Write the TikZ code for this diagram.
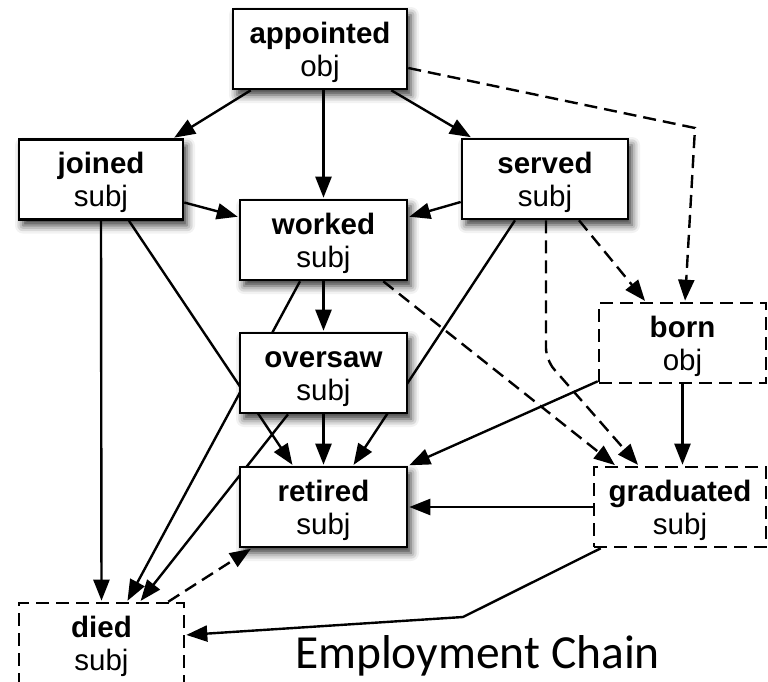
\documentclass[tikz,border=0pt]{standalone}
\usepackage{fontspec}
\setmainfont{Liberation Sans}
\newfontfamily\titlefont{Carlito}
\usetikzlibrary{arrows.meta,shadows.blur}
\pgfdeclarelayer{edges}
\pgfsetlayers{edges,main}

% two-line event label: bold verb over its role
\newcommand{\evt}[2]{\rule{0pt}{28pt}\textbf{#1}\\#2}

\tikzset{
  box/.style={rectangle, minimum width=167pt, minimum height=80pt, inner sep=0pt,
    align=center, font=\fontsize{29.5}{33}\selectfont, fill=white, line width=2.6pt},
  solidbox/.style={box, draw, blur shadow={shadow xshift=4pt, shadow yshift=-6pt,
    shadow blur radius=8pt, shadow opacity=80}},
  dashbox/.style={box, draw, dash pattern=on 13pt off 7pt},
  wire/.style={line width=2.4pt},
  link/.style={wire, -{Triangle[length=21pt,width=16pt]}, shorten >=1pt},
  dlink/.style={link, dash pattern=on 13pt off 7pt},
}

\begin{document}
\begin{tikzpicture}[x=1pt, y=-1pt]
\useasboundingbox (0,0) rectangle (768,681);

% events
\node[solidbox, minimum width=174pt] (appointed) at (320,49)    {\evt{appointed}{obj}};
\node[solidbox, minimum width=164pt] (joined)    at (101,179.5) {\evt{joined}{subj}};
\node[solidbox, minimum width=166pt] (served)    at (545,179)   {\evt{served}{subj}};
\node[solidbox] (worked)  at (323.5,240) {\evt{worked}{subj}};
\node[solidbox] (oversaw) at (323.5,373) {\evt{oversaw}{subj}};
\node[solidbox] (retired) at (323.5,507) {\evt{retired}{subj}};
\node[dashbox] (born)      at (682.5,343) {\evt{born}{obj}};
\node[dashbox, minimum width=172pt] (graduated) at (680,507) {\evt{graduated}{subj}};
\node[dashbox, minimum width=165pt] (died)      at (101.5,643) {\evt{died}{subj}};

\node[font=\titlefont\fontsize{47.5}{50}\selectfont, anchor=base, inner sep=0pt]
  (title) at (477.5,668) {Employment Chain};

% bend points
\coordinate (bornbend) at (695,128);
\coordinate (gradbend) at (546,360);
\coordinate (diedbend) at (463,617);

\begin{pgfonlayer}{edges}
% from appointed
\draw[link] ([xshift=19pt]appointed.south west) -- ([xshift=-11pt]joined.north east);
\draw[link] (worked.north |- appointed.south) -- (worked.north);
\draw[link] ([xshift=-17pt]appointed.south east) -- ([xshift=11pt]served.north west);
\draw[dlink] ([yshift=-19pt]appointed.east) -- (bornbend) -- ([xshift=2.5pt]born.north);
% into worked
\draw[link] ([yshift=-23pt]joined.east) -- ([yshift=23pt]worked.west);
\draw[link] ([yshift=-23pt]served.west) -- ([yshift=23pt]worked.east);
% from joined
\draw[link] (joined.south) -- (died.north);
\draw[link] ([xshift=28pt]joined.south) -- ([xshift=-30.5pt]retired.north);
% from worked
\draw[link] (worked.south) -- (oversaw.north);
\draw[link] ([xshift=-23.5pt]worked.south) -- ([xshift=25.5pt]died.north);
\draw[dlink] ([xshift=-25pt]worked.south east) -- ([xshift=23pt]graduated.north west);
% from oversaw
\draw[link] ([xshift=-35.5pt]oversaw.south) -- ([xshift=38.5pt]died.north);
\draw[link] (oversaw.south) -- (retired.north);
% from served
\draw[link] ([xshift=-30pt]served.south) -- ([xshift=29.5pt]retired.north);
\draw[dlink, rounded corners=12pt] ([xshift=1pt]served.south) -- (gradbend)
  -- ([xshift=46pt]graduated.north west);
\draw[dlink] ([xshift=34pt]served.south) -- ([xshift=48pt]born.north west);
% from born
\draw[link] ([yshift=3pt]born.south west) -- (retired.north east);
\draw[link] (born.south) -- (born.south |- graduated.north);
% from graduated
\draw[link] (graduated.west) -- (retired.east);
\draw[link] ([xshift=8pt]graduated.south west) -- (diedbend) -- ([yshift=8pt]died.east);
% from died
\draw[dlink] ([xshift=-17pt]died.north east) -- ([xshift=13pt]retired.south west);
\end{pgfonlayer}
\end{tikzpicture}
\end{document}
